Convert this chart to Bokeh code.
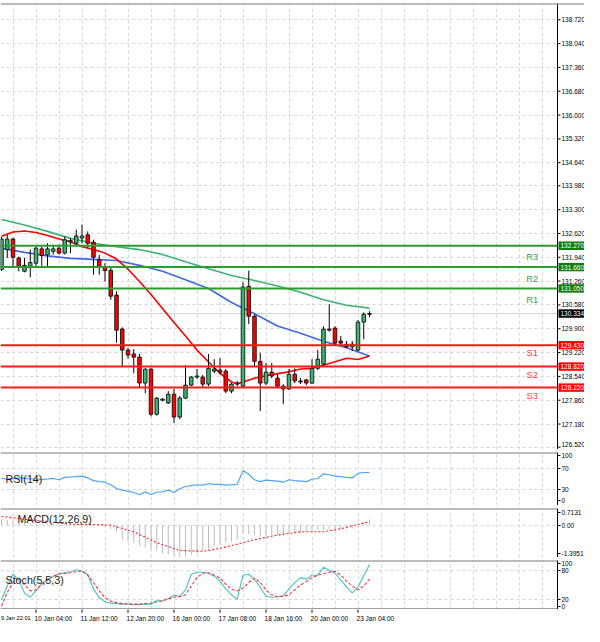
from bokeh.plotting import figure
from bokeh.models import Range1d, FixedTicker, Span, Label, ColumnDataSource
from bokeh.layouts import column
from bokeh.embed import file_html
from bokeh.resources import INLINE
from bokeh.core.properties import value

FONT = "Liberation Sans"

# ---------------- data ----------------
bar_index = list(range(65))
opens = [131.59, 132.16, 132.46, 131.92, 131.54, 131.68, 131.77, 132.18, 132.01, 132.11,
         132.20, 132.06, 132.38, 132.34, 132.49, 132.58, 132.37, 131.87, 131.65, 131.57,
         130.86, 129.89, 129.29, 129.18, 129.09, 128.35, 128.75, 127.46, 127.89, 127.78,
         128.03, 127.38, 127.92, 128.29, 128.52, 128.52, 128.32, 128.69, 128.72, 128.69,
         128.12, 128.32, 128.26, 131.11, 130.26, 128.97, 128.35, 128.66, 128.49, 128.26,
         128.18, 128.60, 128.41, 128.44, 128.35, 128.77, 128.89, 129.89, 129.92, 129.55,
         129.46, 129.38, 129.29, 130.09, 130.31]
highs = [132.52, 132.58, 132.50, 131.96, 131.92, 132.16, 132.28, 132.25, 132.34, 132.30,
         132.30, 132.53, 132.49, 132.73, 132.87, 132.68, 132.44, 132.01, 131.77, 131.68,
         130.97, 129.94, 129.35, 129.32, 129.18, 128.77, 128.77, 127.95, 127.92, 128.12,
         128.18, 127.98, 128.86, 128.55, 128.75, 128.58, 129.18, 129.03, 129.06, 128.75,
         128.35, 128.41, 131.23, 131.56, 130.31, 129.21, 128.92, 128.92, 128.60, 128.32,
         128.75, 128.77, 128.49, 128.47, 129.03, 129.29, 129.97, 130.60, 129.97, 129.69,
         129.55, 129.55, 130.15, 130.37, 130.40]
lows = [131.55, 131.92, 131.68, 131.54, 131.51, 131.37, 131.68, 131.70, 131.69, 132.02,
        132.02, 132.02, 132.06, 132.30, 132.34, 132.20, 131.44, 131.44, 131.25, 130.73,
        129.50, 128.83, 129.05, 128.63, 128.23, 128.06, 127.40, 127.42, 127.83, 127.75,
        127.21, 127.32, 127.89, 128.26, 128.47, 128.23, 128.26, 128.63, 128.60, 128.06,
        128.06, 128.26, 128.23, 130.03, 128.83, 127.55, 128.29, 128.49, 128.20, 127.75,
        128.15, 128.35, 128.32, 128.29, 128.32, 128.72, 128.83, 129.82, 129.43, 129.40,
        129.35, 129.26, 129.26, 129.60, 130.23]
closes = [132.46, 132.46, 131.94, 131.68, 131.71, 131.79, 132.20, 131.99, 132.18, 132.18,
          132.06, 132.44, 132.42, 132.55, 132.55, 132.34, 131.94, 131.68, 131.56, 130.83,
          129.86, 129.29, 129.15, 129.09, 128.35, 128.75, 127.46, 127.92, 127.86, 128.03,
          127.38, 127.92, 128.29, 128.52, 128.55, 128.32, 128.77, 128.75, 128.66, 128.12,
          128.32, 128.35, 131.09, 130.26, 128.97, 128.35, 128.66, 128.55, 128.26, 128.18,
          128.60, 128.41, 128.38, 128.35, 128.77, 129.03, 129.89, 129.86, 129.49, 129.49,
          129.38, 129.46, 130.09, 130.31, 130.334]

slow_ma_bars = [0, 4, 8, 12, 16, 20, 24, 28, 32, 36, 40, 44, 48, 52, 56, 60, 64]
slow_ma = [133.02, 132.86, 132.68, 132.48, 132.34, 132.24, 132.16, 132.02, 131.81, 131.61,
           131.42, 131.28, 131.12, 130.94, 130.73, 130.57, 130.49]
mid_ma_bars = [0, 4, 8, 12, 16, 20, 24, 28, 32, 36, 40, 44, 48, 52, 56, 60, 64]
mid_ma = [132.20, 132.08, 131.98, 131.91, 131.88, 131.85, 131.71, 131.54, 131.30, 131.05,
          130.65, 130.33, 129.98, 129.77, 129.54, 129.36, 129.12]
fast_ma_bars = [0, 2, 4, 6, 8, 10, 12, 14, 16, 18, 20, 22, 24, 26, 28, 30, 32, 34, 36, 38,
                40, 41, 42, 44, 46, 48, 50, 52, 54, 56, 58, 60, 62, 64]
fast_ma = [132.54, 132.66, 132.69, 132.65, 132.56, 132.46, 132.38, 132.24, 132.16, 132.06,
           131.89, 131.60, 131.25, 130.88, 130.48, 130.08, 129.69, 129.29, 128.95, 128.63,
           128.38, 128.33, 128.38, 128.49, 128.56, 128.62, 128.67, 128.75, 128.77, 128.86,
           128.96, 129.06, 129.02, 129.12]

resistance_names = ["R3", "R2", "R1"]
resistance_levels = [132.27, 131.66, 131.05]
support_names = ["S1", "S2", "S3"]
support_levels = [129.43, 128.82, 128.22]
last_price = 130.334

price_ticks = [126.52, 127.18, 127.86, 128.54, 129.22, 129.90, 130.58, 131.26, 131.94,
               132.62, 133.30, 133.98, 134.64, 135.32, 136.00, 136.68, 137.36, 138.04, 138.72]

rsi = [51, 50, 51, 52, 51, 50, 50, 49, 50, 51,
       48.6, 53, 53.8, 54.6, 55.5, 52, 47, 45, 44, 39,
       32, 29, 27, 24.6, 20.3, 26, 20.3, 25.5, 25.5, 29,
       24.6, 31.5, 35.8, 37.5, 39.2, 38.3, 41, 40, 40, 38.3,
       39.2, 40, 65.8, 59, 48.6, 45, 47.8, 47, 46, 44,
       48.6, 47, 46, 45, 49.5, 51, 59.8, 58, 55.5, 54.6,
       53, 52, 60.6, 62.3, 62.3]

macd_hist = [0.25, 0.22, 0.18, 0.14, 0.11, 0.09, 0.08, 0.07, 0.06, 0.06,
             0.05, 0.06, 0.07, 0.08, 0.09, 0.07, 0.02, -0.03, -0.08, -0.16,
             -0.28, -0.63, -0.70, -0.76, -0.88, -0.96, -1.05, -1.09, -1.22, -1.25,
             -1.32, -1.39, -1.35, -1.29, -1.22, -1.10, -1.02, -0.89, -0.84, -0.76,
             -0.70, -0.63, -0.36, -0.38, -0.43, -0.49, -0.49, -0.47, -0.45, -0.43,
             -0.40, -0.36, -0.30, -0.27, -0.24, -0.22, -0.20, -0.20, -0.19, -0.17,
             -0.16, -0.15, -0.02, 0.10, 0.24]
macd_signal_bars = [0, 6, 12, 19, 23, 27, 31, 35, 38, 41, 44, 48, 52, 56, 59, 64]
macd_signal = [0.37, 0.20, 0.04, 0.0, -0.29, -0.76, -1.09, -1.13, -1.0, -0.82, -0.63, -0.43,
               -0.29, -0.29, -0.16, 0.15]

stoch_main = [20, 48, 72, 60, 33, 25, 38, 52, 62, 68,
              72, 75, 77, 81, 78, 71, 42, 24, 16, 13,
              12, 11, 11, 10, 10, 11, 11, 18, 17, 22,
              29, 27, 40, 72, 76, 76, 74, 68, 58, 42,
              30, 21, 70, 72, 62, 45, 27, 25, 26, 28,
              42, 55, 65, 62, 70, 70, 86, 80, 74, 60,
              46, 34, 46, 69, 92]
stoch_signal = [7, 35, 55, 65, 50, 38, 40, 52, 60, 68,
                73, 74, 75, 77, 79, 70, 55, 38, 24, 17,
                14, 12, 11, 11, 11, 12, 13, 16, 18, 22,
                25, 26, 30, 48, 65, 74, 75, 70, 64, 52,
                41, 38, 44, 55, 64, 55, 40, 30, 26, 27,
                30, 40, 50, 57, 65, 70, 73, 76, 78, 70,
                58, 48, 40, 48, 62]

date_labels = ["9 Jan 22:01", "10 Jan 04:00", "11 Jan 12:00", "12 Jan 20:00", "16 Jan 00:00",
               "17 Jan 08:00", "18 Jan 16:00", "20 Jan 00:00", "23 Jan 04:00"]
date_label_bars = [-2, 6, 14, 22, 30, 38, 46, 54, 62]

# ---------------- layout / styling ----------------
PX = 5.75                  # pixels per bar
X0 = -1.0 / PX             # data x at the left frame edge
TOTAL_W = 584
AXIS_PX = 557              # right price axis position (px)
AXIS_X = X0 + AXIS_PX / PX
GRID_X = list(range(2, 95, 4))
GRID_COLOR = "#d6d6d6"
AX_FS = "6.5px"
BULL = "#3cb371"
BEAR = "#ff0000"
RES_COLOR = "#2e9b2e"
SUP_COLOR = "#ff1a1a"
SEP_COLOR = "#7a7a7a"


def base_fig(fw, fh, xr, yr, top, right, bottom, yloc="right", sep=True):
    f = figure(frame_width=fw, frame_height=fh, x_range=xr, y_range=yr,
               output_backend="svg", toolbar_location=None,
               x_axis_location=None, y_axis_location=yloc,
               min_border_left=0, min_border_right=right,
               min_border_top=top, min_border_bottom=bottom)
    f.outline_line_color = None
    f.background_fill_color = "white"
    f.border_fill_color = "white"
    f.xgrid.ticker = FixedTicker(ticks=GRID_X)
    f.xgrid.grid_line_color = GRID_COLOR
    f.ygrid.grid_line_color = GRID_COLOR
    f.xgrid.grid_line_dash = "3 3"
    f.ygrid.grid_line_dash = "3 3"
    if sep:
        f.add_layout(Span(location=yr.end, dimension="width", line_color=SEP_COLOR, line_width=2))
    return f


def style_y(f, ticks, grid_ticks, overrides=None):
    ax = f.yaxis[0]
    ax.ticker = FixedTicker(ticks=ticks)
    if overrides:
        ax.major_label_overrides = overrides
    ax.axis_line_color = "black"
    ax.major_tick_line_color = "black"
    ax.major_tick_in = 0
    ax.major_tick_out = 3
    ax.minor_tick_line_color = None
    ax.major_label_text_font = FONT
    ax.major_label_text_font_size = AX_FS
    ax.major_label_text_color = "black"
    ax.major_label_standoff = 1
    f.ygrid.ticker = FixedTicker(ticks=grid_ticks)


# ---------------- main price panel (price scale drawn inside its own frame) ----------------
xr_main = Range1d(X0, X0 + TOTAL_W / PX)
yr_main = Range1d(126.453, 139.185)
MAIN_H = 446
p1 = base_fig(TOTAL_W, MAIN_H, xr_main, yr_main, 3, 0, 0, yloc=None)
p1.ygrid.ticker = FixedTicker(ticks=price_ticks)
unit_px = MAIN_H / (yr_main.end - yr_main.start)

# white background for the price-scale strip (hides grid there)
p1.quad(left=[AXIS_X], right=[xr_main.end], bottom=[yr_main.start], top=[yr_main.end],
        fill_color="white", line_color=None)

tops = [max(o, c) for o, c in zip(opens, closes)]
bots = [min(o, c) for o, c in zip(opens, closes)]
cols = [BULL if c >= o else BEAR for o, c in zip(opens, closes)]
src = ColumnDataSource(dict(x=bar_index, h=highs, l=lows, top=tops, bottom=bots, color=cols))

p1.segment(x0=[X0], x1=[AXIS_X], y0=[last_price], y1=[last_price], line_color="#d0d0d0", line_width=1)
p1.line(slow_ma_bars, slow_ma, line_color="#3cb371", line_width=1.6)
p1.line(mid_ma_bars, mid_ma, line_color="#4169e1", line_width=1.6)
p1.line(fast_ma_bars, fast_ma, line_color="#ff0000", line_width=1.6)
p1.segment(x0="x", y0="l", x1="x", y1="h", source=src, line_color="black", line_width=1)
p1.vbar(x="x", width=0.62, top="top", bottom="bottom", source=src,
        fill_color="color", line_color="black", line_width=0.8)

n_r = len(resistance_levels)
n_s = len(support_levels)
p1.segment(x0=[X0] * n_r, x1=[AXIS_X] * n_r, y0=resistance_levels, y1=resistance_levels,
           line_color=RES_COLOR, line_width=2)
p1.segment(x0=[X0] * n_s, x1=[AXIS_X] * n_s, y0=support_levels, y1=support_levels,
           line_color=SUP_COLOR, line_width=2)

p1.text(x=[92.3] * n_r, y=[v - 0.32 for v in resistance_levels], text=resistance_names,
        text_align="center", text_baseline="middle", text_color="#3fa34a",
        text_font=value(FONT), text_font_size="9.4px")
p1.text(x=[92.3] * n_s, y=[v - 0.22 for v in support_levels], text=support_names,
        text_align="center", text_baseline="middle", text_color="#ff3b3b",
        text_font=value(FONT), text_font_size="9.4px")

# price scale: axis line, tick marks, tick labels
p1.segment(x0=[AXIS_X], x1=[AXIS_X], y0=[yr_main.start], y1=[yr_main.end], line_color="black", line_width=1)
n_t = len(price_ticks)
p1.segment(x0=[AXIS_X] * n_t, x1=[AXIS_X + 3 / PX] * n_t, y0=price_ticks, y1=price_ticks,
           line_color="black", line_width=1)
label_y = [max(t, yr_main.start + 5.0 / unit_px) for t in price_ticks]   # keep lowest label inside
p1.text(x=[AXIS_X + 4 / PX] * n_t, y=label_y, text=[f"{t:.3f}" for t in price_ticks],
        text_align="left", text_baseline="middle", text_color="black",
        text_font=value(FONT), text_font_size=AX_FS)

# boxed level labels
box_levels = resistance_levels + support_levels + [last_price]
box_colors = ["#0f7d0f"] * n_r + ["#ff0000"] * n_s + ["#000000"]
half_h = 4.2 / unit_px
p1.quad(left=[AXIS_X + 1 / PX] * len(box_levels), right=[xr_main.end] * len(box_levels),
        bottom=[v - half_h for v in box_levels], top=[v + half_h for v in box_levels],
        fill_color=box_colors, line_color=None)
p1.text(x=[AXIS_X + 3 / PX] * len(box_levels), y=box_levels, text=[f"{v:.3f}" for v in box_levels],
        text_align="left", text_baseline="middle", text_color="white",
        text_font=value(FONT), text_font_size=AX_FS)

# ---------------- sub panels ----------------
xr_sub = Range1d(X0, AXIS_X)
FW_SUB = AXIS_PX
RB = TOTAL_W - AXIS_PX

# RSI
p2 = base_fig(FW_SUB, 53, xr_sub, Range1d(0, 100), 3, RB, 0)
style_y(p2, [9, 30, 70, 95], [30, 70], overrides={9: "0", 95: "100"})
p2.line(bar_index, rsi, line_color="#4da3f5", line_width=1.2)
p2.add_layout(Label(x=0.7, y=49.7, text="RSI(14)", text_font=FONT, text_font_size="10.7px",
                    text_baseline="middle", text_color="#1a1a1a"))

# MACD
p3 = base_fig(FW_SUB, 49, xr_sub, Range1d(-1.3951, 0.7131), 3, RB, 0)
style_y(p3, [-1.22, 0.0, 0.56], [0.0], overrides={-1.22: "-1.3951", 0.0: "0.00", 0.56: "0.7131"})
p3.segment(x0=bar_index, y0=[0] * len(bar_index), x1=bar_index, y1=macd_hist,
           line_color="#bdbdbd", line_width=1)
p3.line(macd_signal_bars, macd_signal, line_color="#ff2020", line_width=1.1, line_dash="2 2")
p3.add_layout(Label(x=2.8, y=0.27, text="MACD(12,26,9)", text_font=FONT, text_font_size="10.7px",
                    text_baseline="middle", text_color="#1a1a1a"))

# Stochastic
p4 = base_fig(FW_SUB, 49, xr_sub, Range1d(0, 100), 3, RB, 0)
style_y(p4, [7, 20, 80, 93], [20, 80], overrides={7: "0", 93: "100"})
p4.line(bar_index, stoch_main, line_color="#45c4c4", line_width=1.1)
p4.line(bar_index, stoch_signal, line_color="#ff3030", line_width=1.1, line_dash="3 2")
p4.add_layout(Span(location=0, dimension="width", line_color="#404040", line_width=2))
p4.add_layout(Label(x=0.7, y=59.6, text="Stoch(5,5,3)", text_font=FONT, text_font_size="10.7px",
                    text_baseline="middle", text_color="#1a1a1a"))

# time scale strip: tick marks and left-aligned date labels on the shared bar scale
p5 = base_fig(FW_SUB, 16, xr_sub, Range1d(0, 1), 0, RB, 0, yloc=None, sep=False)
p5.xgrid.grid_line_color = None
p5.ygrid.grid_line_color = None
n_d = len(date_label_bars)
p5.segment(x0=date_label_bars, x1=date_label_bars, y0=[1.0] * n_d, y1=[0.8] * n_d,
           line_color="black", line_width=1)
starts = [b - 0.25 for b in date_label_bars]
inside = [i for i, s in enumerate(starts) if s >= X0]
outside = [i for i, s in enumerate(starts) if s < X0]
p5.text(x=[starts[i] for i in inside], y=[0.45] * len(inside), text=[date_labels[i] for i in inside],
        text_align="left", text_baseline="middle", text_color="black",
        text_font=value(FONT), text_font_size=AX_FS)
# the label whose bar lies left of the window: pinned to the left edge, slightly smaller
p5.text(x=[X0 + 0.5 / PX] * len(outside), y=[0.45] * len(outside), text=[date_labels[i] for i in outside],
        text_align="left", text_baseline="middle", text_color="black",
        text_font=value(FONT), text_font_size="5.7px")

layout = column(p1, p2, p3, p4, p5, spacing=0)
open("out.html", "w").write(file_html(layout, INLINE))
